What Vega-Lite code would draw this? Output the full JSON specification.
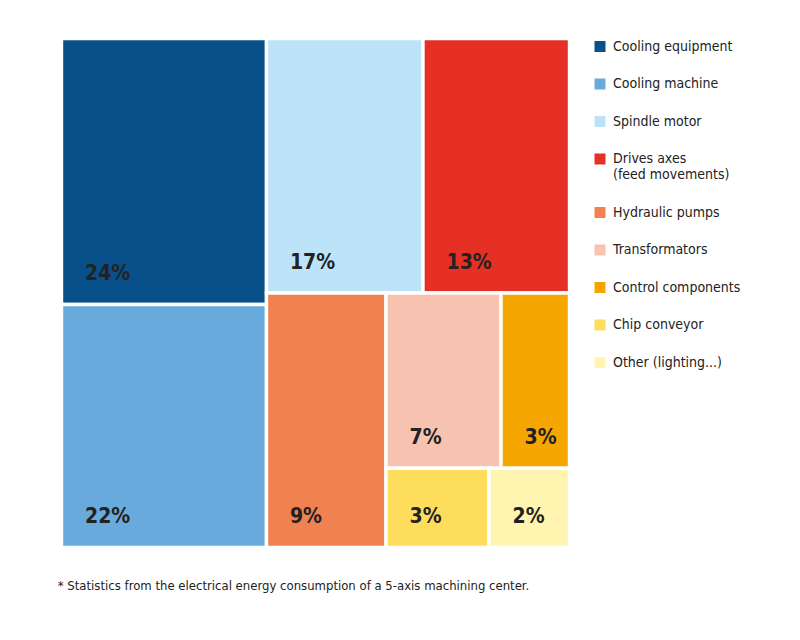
{
  "$schema": "https://vega.github.io/schema/vega-lite/v6.json",
  "width": 508,
  "height": 509,
  "autosize": {"type": "none"},
  "padding": {"left": 61.5, "top": 38.5, "right": 230.5, "bottom": 92.5},
  "background": "white",
  "title": {
    "text": "* Statistics from the electrical energy consumption of a 5-axis machining center.",
    "orient": "bottom",
    "anchor": "start",
    "offset": 31,
    "dx": -2,
    "font": "'DejaVu Sans Condensed', Roboto, sans-serif",
    "fontSize": 13,
    "fontWeight": "normal",
    "color": "#222222"
  },
  "config": {
    "view": {"stroke": null},
    "font": "'DejaVu Sans Condensed', Roboto, sans-serif"
  },
  "data": {
    "values": [
      {"category": "Cooling equipment", "share": "24%", "x0": 0, "x1": 40.35, "y0": 0, "y1": 52.26},
      {"category": "Cooling machine", "share": "22%", "x0": 0, "x1": 40.35, "y0": 52.26, "y1": 100},
      {"category": "Spindle motor", "share": "17%", "x0": 40.35, "x1": 71.16, "y0": 0, "y1": 50.0},
      {"category": "Drives axes", "share": "13%", "x0": 71.16, "x1": 100, "y0": 0, "y1": 50.0},
      {"category": "Hydraulic pumps", "share": "9%", "x0": 40.35, "x1": 63.88, "y0": 50.0, "y1": 100},
      {"category": "Transformators", "share": "7%", "x0": 63.88, "x1": 86.52, "y0": 50.0, "y1": 84.44},
      {"category": "Control components", "share": "3%", "x0": 86.52, "x1": 100, "y0": 50.0, "y1": 84.44},
      {"category": "Chip conveyor", "share": "3%", "x0": 63.88, "x1": 84.15, "y0": 84.44, "y1": 100},
      {"category": "Other (lighting...)", "share": "2%", "x0": 84.15, "x1": 100, "y0": 84.44, "y1": 100}
    ]
  },
  "encoding": {
    "x": {"field": "x0", "type": "quantitative", "scale": {"domain": [0, 100], "nice": false}, "axis": null},
    "y": {"field": "y0", "type": "quantitative", "scale": {"domain": [0, 100], "nice": false, "reverse": true}, "axis": null}
  },
  "layer": [
    {
      "mark": {"type": "rect", "stroke": "white", "strokeWidth": 3.4},
      "encoding": {
        "x2": {"field": "x1"},
        "y2": {"field": "y1"},
        "color": {
          "field": "category",
          "type": "nominal",
          "scale": {
            "domain": ["Cooling equipment", "Cooling machine", "Spindle motor", "Drives axes", "Hydraulic pumps", "Transformators", "Control components", "Chip conveyor", "Other (lighting...)"],
            "range": ["#07508a", "#69aadc", "#bde3f8", "#e63025", "#f08151", "#f7c3b0", "#f5a600", "#ffdd5c", "#fff5b0"]
          },
          "legend": {
            "title": null,
            "orient": "none",
            "legendX": 531.5,
            "legendY": 1,
            "padding": 0,
            "symbolType": "square",
            "symbolSize": 121,
            "symbolStrokeWidth": 0,
            "symbolOpacity": 1,
            "labelFont": "'DejaVu Sans Condensed', Roboto, sans-serif",
            "labelFontSize": 14,
            "labelColor": "#222222",
            "labelOffset": 6,
            "labelLimit": 200,
            "rowPadding": 23.5,
            "labelExpr": "datum.label == 'Drives axes' ? ['Drives axes', '(feed movements)'] : datum.label"
          }
        }
      }
    },
    {
      "mark": {
        "type": "text",
        "align": "left",
        "baseline": "alphabetic",
        "dx": 23.5,
        "dy": -24.5,
        "font": "'DejaVu Sans Condensed', Roboto, sans-serif",
        "fontSize": 21,
        "fontWeight": "bold",
        "color": "#222222"
      },
      "encoding": {
        "y": {"field": "y1", "type": "quantitative"},
        "text": {"field": "share", "type": "nominal"}
      }
    }
  ]
}
